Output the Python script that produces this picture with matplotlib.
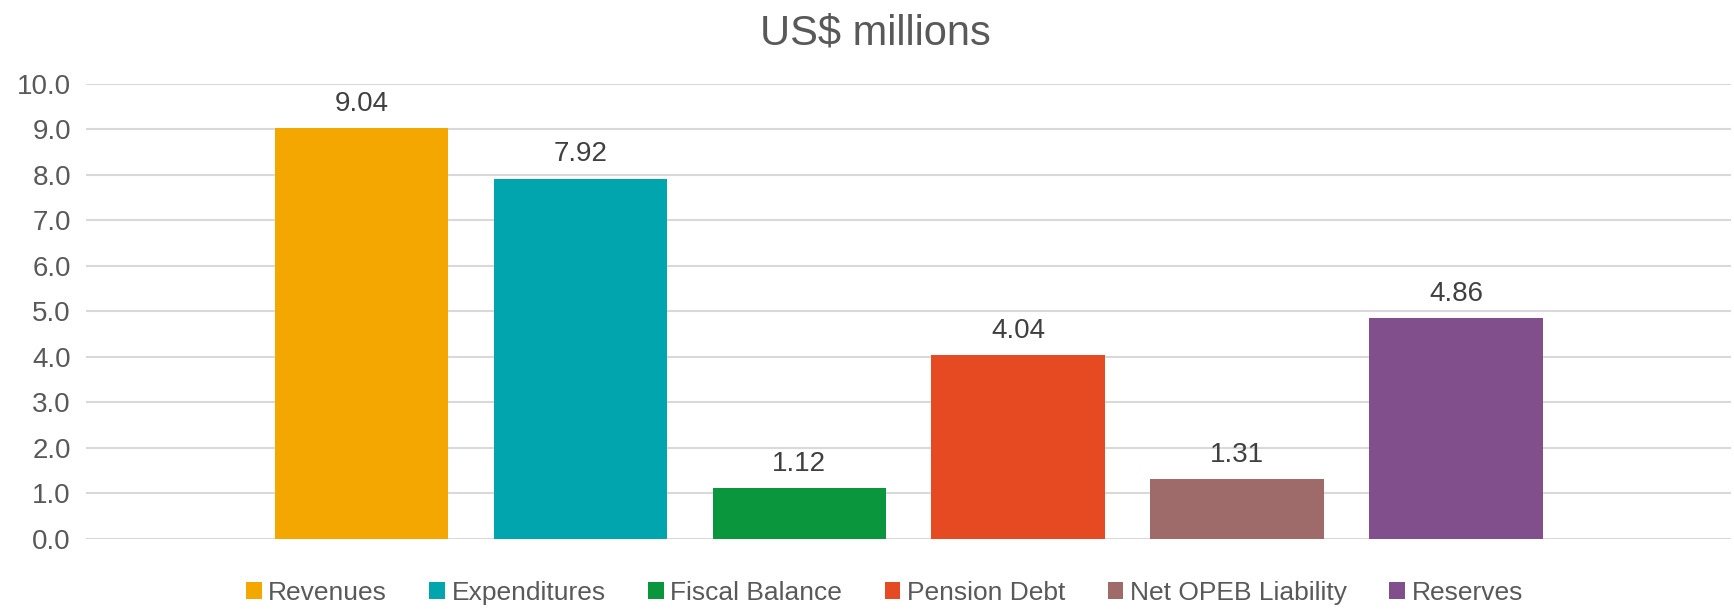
import matplotlib.pyplot as plt
import numpy as np

plt.rcParams['font.family'] = ['Liberation Sans', 'DejaVu Sans']

series = ['Revenues', 'Expenditures', 'Fiscal Balance', 'Pension Debt',
          'Net OPEB Liability', 'Reserves']
values = [9.04, 7.92, 1.12, 4.04, 1.31, 4.86]
colors = ['#F4A700', '#00A5AE', '#0A963C', '#E64A23', '#9E6B6A', '#814F8C']
yticks = np.arange(0, 10.1, 1.0)

fig = plt.figure(figsize=(17.34, 6.09), dpi=100)
ax = fig.add_axes([0.0497, 0.1156, 0.9488, 0.7464])

# single category, six series side by side
width = 0.1055
pitch = 0.1331
for i, (name, v, c) in enumerate(zip(series, values, colors)):
    x = (i - 2.5) * pitch
    ax.bar(x, v, width=width, color=c, label=name, zorder=3)
    ax.annotate(f'{v:.2f}', (x, v), xytext=(0, 8), textcoords='offset points',
                ha='center', va='bottom', fontsize=20, color='#404040')

ax.set_xlim(-0.5, 0.5)
ax.set_ylim(0, 10)
ax.set_yticks(yticks)
ax.set_yticklabels([f'{t:.1f}' for t in yticks], fontsize=20, color='#595959')
ax.set_xticks([])
ax.tick_params(axis='y', length=0, pad=11)
ax.grid(axis='y', color='#d9d9d9', linewidth=1.5, zorder=0)
for s in ax.spines.values():
    s.set_visible(False)

fig.text(0.505, 0.945, 'US$ millions', ha='center', va='center', fontsize=30,
         color='#595959')

fig.legend(loc='center', bbox_to_anchor=(0.51, 0.027), ncol=6, frameon=False,
           fontsize=19, handlelength=0.6, handleheight=0.6, handletextpad=0.25,
           columnspacing=1.6, labelcolor='#595959')

fig.savefig('out.png', dpi=100)
